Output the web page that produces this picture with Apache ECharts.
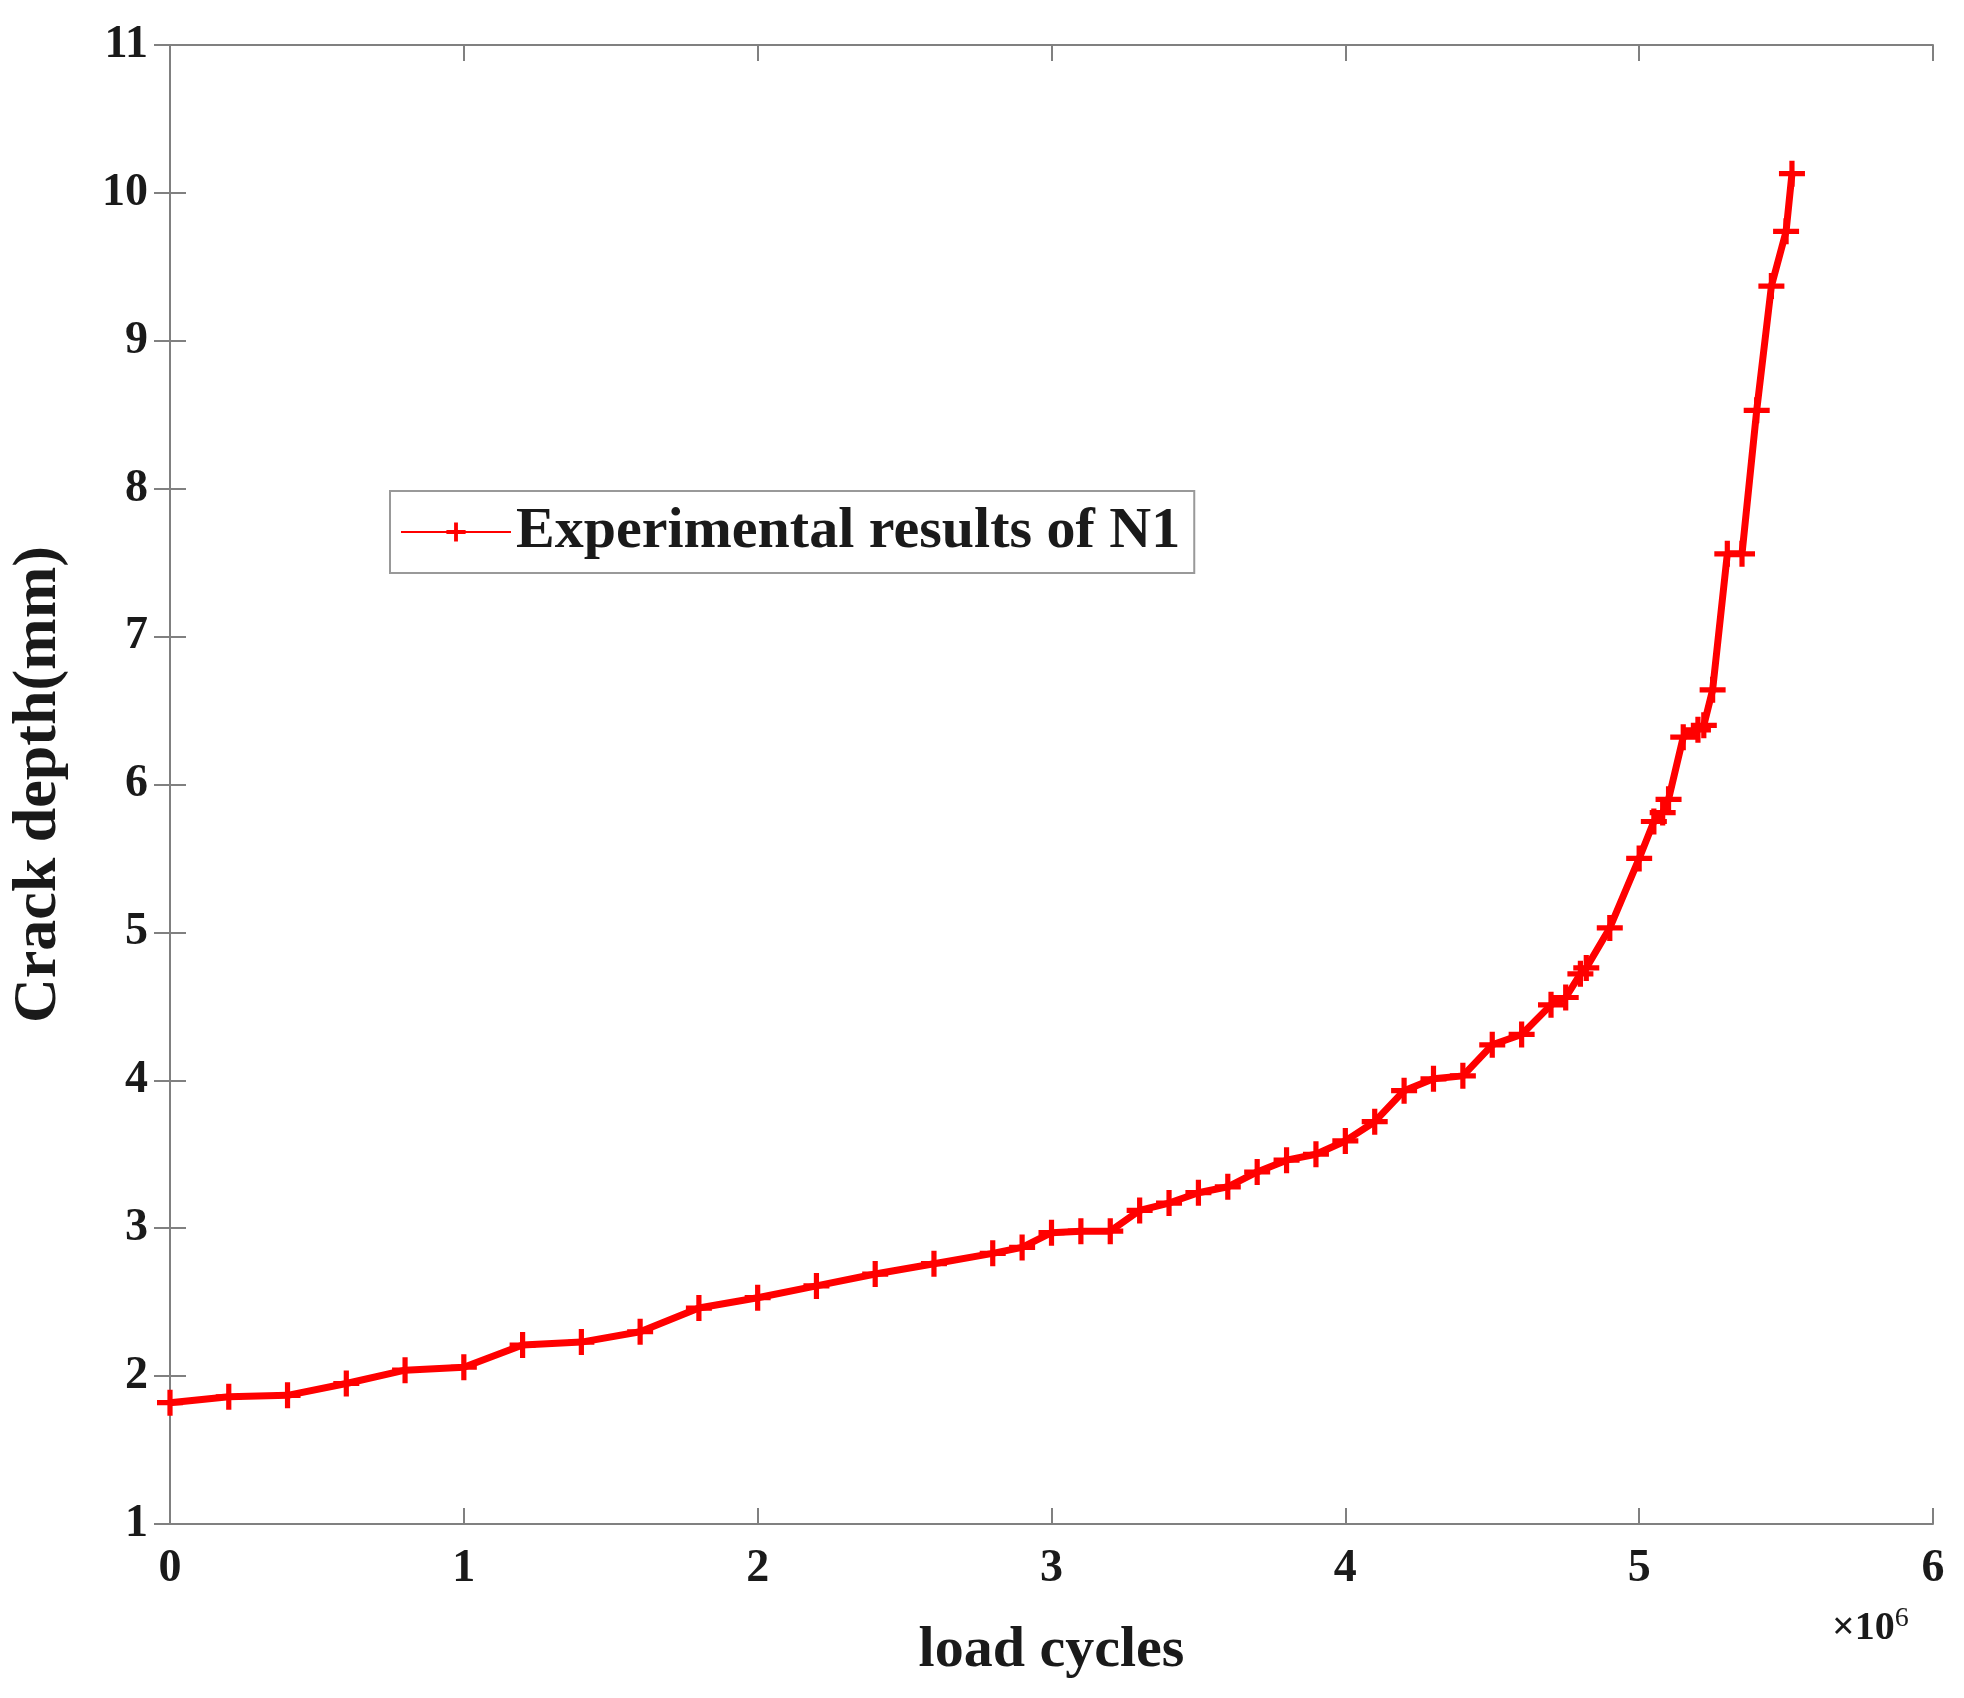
<!DOCTYPE html>
<html>
<head>
<meta charset="utf-8">
<script src="https://cdn.jsdelivr.net/npm/echarts@6/dist/echarts.min.js"></script>
<style>html,body{margin:0;padding:0;background:#fff}#c{width:1964px;height:1698px}</style>
</head>
<body>
<div id="c"></div>
<script>
// load cycles (x10^6) and crack depth (mm)
const cycles = [0, 0.2, 0.4, 0.6, 0.8, 1.0, 1.2, 1.4, 1.6, 1.8, 2.0, 2.2, 2.4, 2.6, 2.8, 2.9, 3.0, 3.1, 3.2, 3.3,
  3.4, 3.5, 3.6, 3.7, 3.8, 3.9, 4.0, 4.1, 4.2, 4.3, 4.4, 4.5, 4.6, 4.7, 4.75, 4.8, 4.82, 4.9, 5.0, 5.05,
  5.08, 5.1, 5.15, 5.2, 5.22, 5.25, 5.3, 5.35, 5.4, 5.45, 5.5, 5.52];
const depth = [1.82, 1.86, 1.87, 1.95, 2.04, 2.06, 2.21, 2.23, 2.30, 2.46, 2.53, 2.61, 2.69, 2.76, 2.83, 2.87, 2.97, 2.98, 2.98, 3.12,
  3.17, 3.24, 3.28, 3.38, 3.46, 3.50, 3.59, 3.72, 3.93, 4.01, 4.03, 4.24, 4.31, 4.51, 4.56, 4.72, 4.76, 5.03, 5.50, 5.75,
  5.81, 5.90, 6.32, 6.37, 6.40, 6.64, 7.56, 7.56, 8.53, 9.37, 9.74, 10.13];
const seriesName = 'Experimental results of N1';

const font = 'Liberation Serif';
const plus = 'path://M8,0H12V8H20V12H12V20H8V12H0V8H8Z';
const axisLine = { show: true, lineStyle: { color: '#808080', width: 2 } };
const tickIn = { show: true, inside: true, length: 16, lineStyle: { color: '#808080', width: 2 } };

const chart = echarts.init(document.getElementById('c'));
chart.setOption({
  animation: false,
  backgroundColor: '#fff',
  grid: { left: 169, right: 31, top: 45, bottom: 174 },
  legend: {
    left: 390, top: 491,
    padding: [12, 14, 12, 10],
    borderColor: '#999', borderWidth: 2, backgroundColor: '#fff',
    itemWidth: 110, itemHeight: 24, itemGap: 8,
    textStyle: { fontFamily: font, fontWeight: 'bold', fontSize: 58, color: '#1a1a1a' },
    data: [seriesName]
  },
  xAxis: [{
    type: 'value', min: 0, max: 6, interval: 1,
    name: 'load cycles', nameLocation: 'middle', nameGap: 98,
    nameTextStyle: { fontFamily: font, fontWeight: 'bold', fontSize: 58, color: '#1a1a1a' },
    axisLine, axisTick: tickIn, splitLine: { show: false },
    axisLabel: { fontFamily: font, fontWeight: 'bold', fontSize: 46, color: '#1a1a1a', margin: 22 }
  }, {
    type: 'value', position: 'top', min: 0, max: 6, interval: 1,
    axisLine, axisTick: tickIn, axisLabel: { show: false }, splitLine: { show: false }
  }],
  yAxis: [{
    type: 'value', min: 1, max: 11, interval: 1,
    name: 'Crack depth(mm)', nameLocation: 'middle', nameGap: 100,
    nameTextStyle: { fontFamily: font, fontWeight: 'bold', fontSize: 62, color: '#1a1a1a' },
    axisLine, axisTick: tickIn, splitLine: { show: false },
    axisLabel: { fontFamily: font, fontWeight: 'bold', fontSize: 46, color: '#1a1a1a', margin: 22 }
  }, {
    type: 'value', position: 'right', min: 1, max: 11, interval: 1,
    axisLine, axisTick: tickIn, axisLabel: { show: false }, splitLine: { show: false }
  }],
  graphic: [{
    type: 'text', left: 1832, top: 1605,
    style: {
      text: '{a|×10}{b|6}',
      rich: {
        a: { fontFamily: font, fontSize: 40, fontWeight: 'bold', fill: '#1a1a1a', verticalAlign: 'bottom' },
        b: { fontFamily: font, fontSize: 28, fill: '#1a1a1a', verticalAlign: 'top', padding: [0, 0, 16, 0] }
      }
    }
  }],
  series: [{
    name: seriesName, type: 'line',
    data: cycles.map((c, i) => [c, depth[i]]),
    lineStyle: { color: '#ff0000', width: 7 },
    itemStyle: { color: '#ff0000' },
    symbol: plus, symbolSize: 26, showSymbol: true
  }]
});
</script>
</body>
</html>
